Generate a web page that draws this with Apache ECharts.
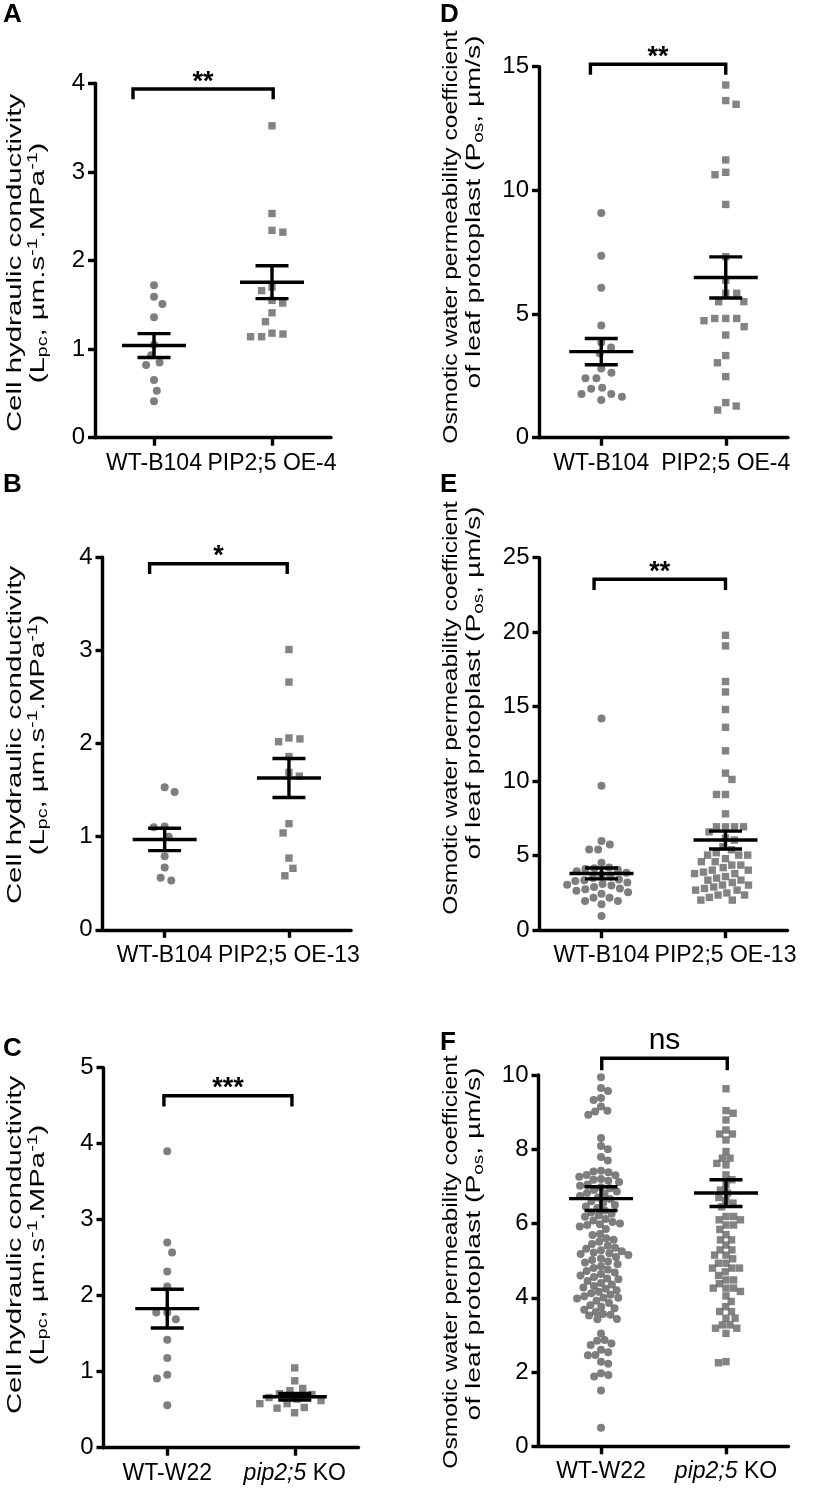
<!DOCTYPE html>
<html>
<head>
<meta charset="utf-8">
<script src="https://cdn.jsdelivr.net/npm/echarts@6/dist/echarts.min.js"></script>
<style>html,body{margin:0;padding:0;background:#fff}#c{width:826px;height:1494px}</style>
</head>
<body>
<div id="c"></div>
<script>
// ---------------- DATA ----------------
const catsA = ['WT-B104', 'PIP2;5 OE-4'];
const catsB = ['WT-B104', 'PIP2;5 OE-13'];
const catsC = ['WT-W22', '{i|pip2;5} KO'];

// Panel A: Lpc (µm.s-1.MPa-1)
const lpcA_WT  = [1.72, 1.59, 1.51, 1.36, 1.05, 0.93, 0.85, 0.82, 0.65, 0.53, 0.41];
const lpcA_OE4 = [3.52, 2.53, 2.34, 2.32, 1.70, 1.66, 1.55, 1.52, 1.41, 1.31, 1.18, 1.17, 1.14, 1.14];
const meanA = [1.04, 1.755];
const semA  = [0.135, 0.185];

// Panel B
const lpcB_WT   = [1.53, 1.48, 1.11, 1.10, 1.00, 0.79, 0.67, 0.56, 0.53];
const lpcB_OE13 = [3.01, 2.66, 2.06, 2.05, 2.02, 1.86, 1.69, 1.65, 1.14, 1.04, 0.77, 0.66, 0.58];
const meanB = [0.97, 1.63];
const semB  = [0.12, 0.21];

// Panel C
const lpcC_WT = [3.90, 2.70, 2.57, 2.32, 2.12, 1.78, 1.78, 1.69, 1.42, 1.18, 0.96, 0.91, 0.56];
const lpcC_KO = [1.05, 0.88, 0.78, 0.75, 0.71, 0.70, 0.66, 0.64, 0.62, 0.58, 0.58, 0.53, 0.52, 0.46];
const meanC = [1.83, 0.67];
const semC  = [0.255, 0.043];

// Panel D: Pos (µm/s)
const posD_WT  = [9.08, 7.36, 6.06, 4.54, 3.85, 3.65, 3.41, 2.80, 2.63, 2.40, 2.40, 2.02, 1.98, 1.77, 1.77, 1.66, 1.52];
const posD_OE4 = [14.26, 13.63, 13.48, 11.23, 10.73, 10.63, 9.43, 7.32, 6.37, 5.84, 5.84, 5.50, 5.50, 4.82, 4.82, 4.82, 4.73, 4.49, 4.15, 3.32, 3.03, 2.47, 1.42, 1.28, 1.12];
const meanD = [3.48, 6.48];
const semD  = [0.53, 0.83];

// Panel E
const posE_WT = [14.2, 9.7, 5.98, 5.76, 5.42, 5.42, 4.52, 4.2, 4.15, 4.1, 4.05, 3.95, 3.85, 3.7, 3.6, 3.5,
  3.4, 3.35, 3.3, 3.2, 3.1, 3.05, 3.0, 2.9, 2.8, 2.75, 2.65, 2.55, 2.45, 2.18, 2.18, 1.96, 1.96, 1.75, 0.95];
const posE_OE13 = [19.79, 19.08, 16.69, 15.99, 14.81, 13.62, 12.04, 10.54, 10.12, 9.11, 9.11, 7.81,
  6.94, 6.94, 6.94, 6.94, 6.6, 6.18, 6.05, 5.6, 5.4, 5.2, 5.04, 5.04, 5.04, 4.8, 4.6, 4.6, 4.37, 4.37,
  4.2, 4.03, 4.03, 3.9, 3.8, 3.8, 3.6, 3.5, 3.36, 3.36, 3.2, 3.03, 3.03, 2.9, 2.8, 2.69, 2.69, 2.5,
  2.36, 2.36, 2.2, 2.02, 2.02];
const meanE = [3.81, 6.05];
const semE  = [0.365, 0.6];

// Panel F
const posF_WT = [9.94, 9.65, 9.57, 9.38, 9.33, 9.15, 9.04, 9.02, 8.93, 8.30, 8.09, 8.00, 7.79, 7.70,
  7.42, 7.40, 7.38, 7.31, 7.30, 7.26, 7.20, 7.18, 7.15, 7.12, 7.05, 7.02, 6.98, 6.95, 6.90, 6.86, 6.82, 6.80,
  6.74, 6.70, 6.66, 6.60, 6.55, 6.50, 6.46, 6.42, 6.35, 6.30,
  6.26, 6.22, 6.18, 6.12, 6.08, 6.04, 6.00, 5.98, 5.96, 5.92,
  5.85, 5.72, 5.69, 5.60, 5.56, 5.51,
  5.45, 5.40, 5.35, 5.32, 5.28, 5.25, 5.22, 5.20, 5.18, 5.15, 5.10, 5.06, 5.02, 4.98,
  4.95, 4.90, 4.85, 4.80, 4.76, 4.72, 4.68, 4.64, 4.60, 4.56, 4.52, 4.50,
  4.45, 4.40, 4.36, 4.32, 4.28, 4.24, 4.20, 4.16, 4.12, 4.08, 4.04, 4.00, 4.00, 3.98,
  3.92, 3.86, 3.80, 3.76, 3.72, 3.68, 3.62, 3.56, 3.54, 3.52,
  3.43, 3.42, 3.04, 2.86, 2.84, 2.77, 2.73, 2.60, 2.53, 2.46, 2.45, 2.28, 2.22,
  1.97, 1.92, 1.88, 1.50, 0.50];
const posF_KO = [9.63, 9.04, 8.97, 8.79, 8.52, 8.41, 8.41, 8.25, 7.94, 7.76, 7.76, 7.62, 7.58, 7.31, 7.18,
  7.04, 6.90, 6.82, 6.70, 6.62, 6.55, 6.45, 6.19, 6.19, 6.10, 6.10, 5.96, 5.96, 5.84, 5.70, 5.56, 5.56,
  5.42, 5.29, 5.29, 5.15, 5.15, 5.05, 4.93, 4.93, 4.80, 4.80, 4.80, 4.70, 4.60, 4.48, 4.48, 4.38, 4.26,
  4.26, 4.26, 4.17, 4.05, 3.90, 3.76, 3.63, 3.63, 3.45, 3.45, 3.27, 3.27, 3.18, 3.18, 3.04, 2.28, 2.25];
const meanF = [6.67, 6.82];
const semF  = [0.32, 0.36];

// significance brackets: [xLeft, xRight, yTop, yLeg, label]
const bracketA = [0.822, 2.01, 3.935, 3.82, '**'];
const bracketB = [0.879, 1.986, 3.93, 3.82, '*'];
const bracketC = [0.974, 1.978, 4.63, 4.49, '***'];
const bracketD = [0.913, 2.0, 15.1, 14.67, '**'];
const bracketE = [0.94, 2.0, 23.55, 22.83, '**'];
const bracketF = [1.006, 2.01, 10.45, 10.13, 'ns'];

const letters = ['A', 'B', 'C', 'D', 'E', 'F'];
const titleLpc1 = 'Cell hydraulic conductivity';
const titleLpc2 = '(L{sub|pc}, µm.s{sup|-1}.MPa{sup|-1})';
const titlePos1 = 'Osmotic water permeability coefficient';
const titlePos2 = 'of leaf protoplast (P{sub|os}, µm/s)';

// ---------------- LAYOUT ----------------
const FONT = "'Liberation Sans', Arial, Helvetica, sans-serif";
const panels = [
  {grid: {left: 95, top: 83.3, width: 236, height: 354.4}, yMax: 4, yInt: 1, cats: catsA,
   groups: [lpcA_WT, lpcA_OE4], mean: meanA, sem: semA, bracket: bracketA},
  {grid: {left: 102.5, top: 557.3, width: 248.6, height: 372.5}, yMax: 4, yInt: 1, cats: catsB,
   groups: [lpcB_WT, lpcB_OE13], mean: meanB, sem: semB, bracket: bracketB},
  {grid: {left: 103.5, top: 1067.7, width: 255, height: 380}, yMax: 5, yInt: 1, cats: catsC,
   groups: [lpcC_WT, lpcC_KO], mean: meanC, sem: semC, bracket: bracketC},
  {grid: {left: 539, top: 66.7, width: 249, height: 371}, yMax: 15, yInt: 5, cats: catsA,
   groups: [posD_WT, posD_OE4], mean: meanD, sem: semD, bracket: bracketD},
  {grid: {left: 539.5, top: 557.7, width: 248, height: 372.5}, yMax: 25, yInt: 5, cats: catsB,
   groups: [posE_WT, posE_OE13], mean: meanE, sem: semE, bracket: bracketE},
  {grid: {left: 538.5, top: 1075, width: 250, height: 371.3}, yMax: 10, yInt: 2, cats: catsC,
   groups: [posF_WT, posF_KO], mean: meanF, sem: semF, bracket: bracketF}
];

// continuous beeswarm placement computed from the values (deterministic)
function swarm(values, center, pxPerX, pxPerY, size) {
  const idx = values.map((v, i) => i).sort((a, b) => values[b] - values[a]);
  const placed = [];
  const out = new Array(values.length);
  let balance = 0;
  for (const i of idx) {
    const py = values[i] * pxPerY;
    const forb = [];
    for (const p of placed) {
      const dy = Math.abs(p[1] - py);
      if (dy < size) { const h = Math.sqrt(size * size - dy * dy); forb.push([p[0] - h, p[0] + h]); }
    }
    const cands = [0];
    forb.forEach(f => { cands.push(f[0], f[1]); });
    const free = x => forb.every(f => x <= f[0] + 1e-6 || x >= f[1] - 1e-6);
    let best = null;
    cands.filter(free).forEach(x => {
      if (best === null || Math.abs(x) < Math.abs(best) - 1e-6 ||
          (Math.abs(Math.abs(x) - Math.abs(best)) < 1e-6 && ((balance > 0 && x < 0) || (balance <= 0 && x > 0)))) best = x;
    });
    if (best === null) best = 0;
    balance += Math.sign(best);
    placed.push([best, py]);
    out[i] = [center + best / pxPerX, values[i]];
  }
  return out;
}

const grids = [], xAxes = [], yAxes = [], series = [];
panels.forEach((p, k) => {
  grids.push(p.grid);
  const cats = p.cats;
  xAxes.push({
    gridIndex: k, type: 'value', min: 0.5, max: 2.5,
    axisLine: {show: true, onZero: false, lineStyle: {color: '#000', width: 3.4}},
    axisTick: {show: true, customValues: [1, 2], length: 8, lineStyle: {color: '#000', width: 3.4}},
    axisLabel: {show: true, customValues: [1, 2], margin: 14, color: '#000', fontSize: 23, fontFamily: FONT,
      formatter: v => cats[Math.round(v) - 1],
      rich: {i: {fontStyle: 'italic', fontSize: 23, fontFamily: FONT, color: '#000'}}},
    splitLine: {show: false}
  });
  yAxes.push({
    gridIndex: k, type: 'value', min: 0, max: p.yMax, interval: p.yInt,
    axisLine: {show: true, onZero: false, lineStyle: {color: '#000', width: 3.4}},
    axisTick: {show: true, length: 7, lineStyle: {color: '#000', width: 3.4}},
    axisLabel: {margin: 10, color: '#000', fontSize: 24, fontFamily: FONT},
    splitLine: {show: false}
  });
  const pxX = p.grid.width / 2, pxY = p.grid.height / p.yMax;
  p.groups.forEach((vals, g) => {
    const n = vals.length;
    const gap = n < 30 ? 11 : (n < 60 ? 9 : 7.6);
    series.push({
      type: 'scatter', xAxisIndex: k, yAxisIndex: k,
      symbol: g === 0 ? 'circle' : 'rect', symbolSize: g === 0 ? 8 : 7.4,
      itemStyle: {color: g === 0 ? '#5e5e5e' : '#646464'},
      data: swarm(vals, g + 1, pxX, pxY, gap),
      silent: true, z: 2
    });
  });
  // mean ± SEM
  series.push({
    type: 'custom', xAxisIndex: k, yAxisIndex: k, z: 5, silent: true,
    data: p.mean.map((m, g) => [g + 1, m, p.sem[g]]),
    renderItem: (params, api) => {
      const x = api.value(0), m = api.value(1), s = api.value(2);
      const c = api.coord([x, m]);
      const t = api.coord([x, m + s]);
      const b = api.coord([x, m - s]);
      const st = {stroke: '#000', lineWidth: 3.4};
      const hm = 32, hc = 16.5;
      return {type: 'group', children: [
        {type: 'line', shape: {x1: c[0] - hm, y1: c[1], x2: c[0] + hm, y2: c[1]}, style: st},
        {type: 'line', shape: {x1: c[0], y1: t[1], x2: c[0], y2: b[1]}, style: st},
        {type: 'line', shape: {x1: c[0] - hc, y1: t[1], x2: c[0] + hc, y2: t[1]}, style: st},
        {type: 'line', shape: {x1: c[0] - hc, y1: b[1], x2: c[0] + hc, y2: b[1]}, style: st}
      ]};
    }
  });
  // significance bracket
  series.push({
    type: 'custom', xAxisIndex: k, yAxisIndex: k, z: 5, silent: true, clip: false,
    data: [p.bracket.slice(0, 4)],
    renderItem: (params, api) => {
      const x1 = api.value(0), x2 = api.value(1), yt = api.value(2), yl = api.value(3);
      const a = api.coord([x1, yl]), b = api.coord([x1, yt]), c = api.coord([x2, yt]), d = api.coord([x2, yl]);
      const label = p.bracket[4];
      const isNs = label === 'ns';
      return {type: 'group', children: [
        {type: 'polyline', shape: {points: [a, b, c, d]}, style: {stroke: '#000', lineWidth: 3.4, fill: null}},
        {type: 'text', x: (b[0] + c[0]) / 2, y: b[1] - (isNs ? 18 : 7),
         style: {text: label, fill: '#000', font: (isNs ? '30px ' : 'bold 27px ') + FONT,
                 align: 'center', verticalAlign: 'middle'}}
      ]};
    }
  });
});

// titles and panel letters
const richT = {
  sub: {fontSize: 14, fontFamily: FONT, color: '#000', lineHeight: 10, verticalAlign: 'bottom'},
  sup: {fontSize: 14, fontFamily: FONT, color: '#000', lineHeight: 10, verticalAlign: 'top'}
};
function titleText(x, y, text, sc) {
  return {type: 'text', x: x, y: y, rotation: Math.PI / 2, scaleX: sc, silent: true,
    style: {text: text, rich: richT, fill: '#000', font: '21px ' + FONT, lineHeight: 24,
            align: 'center', verticalAlign: 'middle'}};
}
const graphics = [];
const leftY = [263, 735, 1245];
const rightY1 = [237, 708, 1262];
const rightY2 = [212, 683, 1244];
leftY.forEach(y => { graphics.push(titleText(15, y, titleLpc1, 1.4)); graphics.push(titleText(38, y, titleLpc2, 1.4)); });
rightY1.forEach(y => graphics.push(titleText(451, y, titlePos1, 1.17)));
rightY2.forEach(y => graphics.push(titleText(474, y, titlePos2, 1.35)));
const letterPos = [[3, 2], [3, 472], [3, 1036], [440, 2], [440, 472], [440, 1030]];
letters.forEach((L, i) => graphics.push({type: 'text', x: letterPos[i][0], y: letterPos[i][1], silent: true,
  style: {text: L, fill: '#000', font: 'bold 26px ' + FONT, align: 'left', verticalAlign: 'top'}}));

const chart = echarts.init(document.getElementById('c'), null, {renderer: 'canvas'});
chart.setOption({
  animation: false,
  backgroundColor: '#ffffff',
  grid: grids, xAxis: xAxes, yAxis: yAxes, series: series, graphic: graphics
});
</script>
</body>
</html>
